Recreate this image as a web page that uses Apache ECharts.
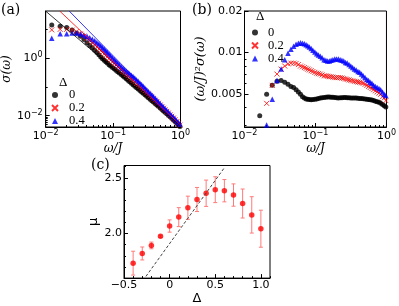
<!DOCTYPE html>
<html><head><meta charset="utf-8">
<script src="https://cdn.jsdelivr.net/npm/echarts@6/dist/echarts.min.js"></script>
<style>html,body{margin:0;padding:0;background:#fff}#c{width:399px;height:306px}</style>
</head><body><div id="c"></div>
<script>
// ---- data ----
const omega = [0.0123,0.0164,0.0205,0.0246,0.0287,0.0328,0.0369,0.041,0.0451,0.0492,0.0533,0.0574,0.0615,0.0656,0.0697,0.0738,0.0779,0.082,
 0.087,0.092,0.098,0.104,0.11,0.117,0.124,0.132,0.14,0.148,0.157,0.166,0.176,0.187,0.198,0.21,0.223,0.236,0.25,0.265,0.28,0.297,0.315,0.334,0.354,0.375,0.397,0.42,0.445,0.47,0.5,0.53,0.56,0.59,0.625,0.66,0.7,0.74,0.785,0.83,0.88,0.93,0.98];
// panel (a): sigma(omega)
const sigmaD0 = [14.5,13.0,11.9,9.6,7.5,5.9,4.5,3.5,2.8,2.31,1.90,1.58,1.32,1.12,0.97,0.85,0.76,0.68,
 0.60,0.54,0.48,0.43,0.385,0.343,0.307,0.272,0.243,0.218,0.194,0.173,0.153,0.135,0.120,0.107,0.0947,0.0847,0.0757,0.0674,0.0602,0.0534,0.0474,0.0421,0.0375,0.0334,0.0297,0.0265,0.0235,0.0211,0.0185,0.0164,0.0146,0.0131,0.0116,0.0103,0.0091,0.00807,0.00709,0.00624,0.00545,0.00478,0.00422];
const sigmaD02 = [9.8,10.2,10.2,9.6,8.5,7.1,5.9,4.9,4.1,3.47,2.94,2.49,2.12,1.84,1.61,1.41,1.25,1.115,
 0.978,0.862,0.750,0.656,0.583,0.511,0.449,0.390,0.347,0.308,0.272,0.243,0.215,0.189,0.168,0.150,0.133,0.118,0.104,0.0918,0.0816,0.0720,0.0635,0.0560,0.0495,0.0439,0.0389,0.0346,0.0306,0.0272,0.0236,0.0206,0.0182,0.0161,0.0141,0.0124,0.0108,0.0095,0.00828,0.00726,0.0062,0.00543,0.00469];
const sigmaD04 = [5.0,7.1,7.1,7.6,7.6,7.1,6.5,5.9,5.2,4.6,4.05,3.55,3.12,2.72,2.39,2.09,1.85,1.64,
 1.41,1.23,1.05,0.906,0.793,0.687,0.598,0.511,0.449,0.397,0.353,0.319,0.287,0.257,0.230,0.204,0.179,0.158,0.139,0.121,0.107,0.093,0.0806,0.0699,0.0606,0.0533,0.0463,0.0408,0.0353,0.0308,0.0264,0.0228,0.0201,0.0175,0.0154,0.0133,0.0116,0.0102,0.00893,0.00784,0.00671,0.00578,0.0051];
// power-law guide lines in (a)
const fitOmega0 = [0.01, 1], fitSigma0 = [44, 0.0045];
const fitOmega02 = [0.0162, 1], fitSigma02 = [44, 0.0047];
const fitOmega04 = [0.0224, 1], fitSigma04 = [44, 0.0050];
// panel (b): (omega/J)^2 sigma(omega)
const scaledD0 = [null,0.0035,0.0050,0.0058,0.0062,0.0063,0.0061,0.0059,0.0057,0.0056,0.0054,0.0052,0.0050,0.0048,0.0047,0.00463,0.0046,0.00458,
 0.00457,0.00458,0.0046,0.00463,0.00466,0.00469,0.00472,0.00474,0.00476,0.00477,0.00477,0.00476,0.00475,0.00473,0.00471,0.0047,0.00471,0.00472,0.00473,0.00473,0.00472,0.00471,0.0047,0.0047,0.0047,0.00469,0.00468,0.00467,0.00466,0.00465,0.00463,0.0046,0.00458,0.00456,0.00454,0.0045,0.00446,0.00442,0.00437,0.0043,0.00422,0.00413,0.00405];
const scaledD02 = [null,null,0.0043,0.0058,0.0070,0.0076,0.0080,0.0083,0.0084,0.0084,0.00835,0.0082,0.0080,0.0079,0.0078,0.0077,0.0076,0.0075,
 0.0074,0.0073,0.0072,0.0071,0.00705,0.007,0.0069,0.0068,0.0068,0.00675,0.0067,0.0067,0.00665,0.0066,0.0066,0.0066,0.0066,0.00655,0.0065,0.00645,0.0064,0.00635,0.0063,0.00625,0.0062,0.00617,0.00613,0.0061,0.00605,0.006,0.0059,0.0058,0.0057,0.0056,0.0055,0.0054,0.0053,0.0052,0.0051,0.0050,0.0048,0.0047,0.0045];
const scaledD04 = [null,null,0.0030,0.0046,0.0063,0.0076,0.0089,0.0099,0.0106,0.0111,0.0115,0.0117,0.0118,0.0117,0.0116,0.0114,0.0112,0.0110,
 0.0107,0.0104,0.0101,0.0098,0.0096,0.0094,0.0092,0.0089,0.0088,0.0087,0.0087,0.0088,0.0089,0.0090,0.0090,0.0090,0.0089,0.0088,0.0087,0.0085,0.0084,0.0082,0.0080,0.0078,0.0076,0.0075,0.0073,0.0072,0.0070,0.0068,0.0066,0.0064,0.0063,0.0061,0.0060,0.0058,0.0057,0.0056,0.0055,0.0054,0.0052,0.0050,0.0049];
// panel (c)
const deltas = [-0.4,-0.3,-0.2,-0.1,0,0.1,0.2,0.3,0.4,0.5,0.6,0.7,0.8,0.9,1.0];
const mu = [1.734,1.821,1.893,1.975,2.067,2.147,2.231,2.305,2.361,2.393,2.384,2.345,2.269,2.167,2.043];
const muErr = [0.107,0.058,0.03,0.01,0.055,0.085,0.104,0.108,0.118,0.116,0.10,0.10,0.13,0.163,0.166];
const guideDelta = [-0.26, 0.6], guideMu = [1.615, 2.59];
// ticks
const logMajorA_X = [0.01, 0.1, 1], logMinorX = [0.02,0.03,0.04,0.05,0.06,0.07,0.08,0.09,0.2,0.3,0.4,0.5,0.6,0.7,0.8,0.9];
const logMajorA_Y = [0.01, 1], logMinorA_Y = [0.005,0.006,0.007,0.008,0.009,0.1,10];
const majorB_Y = [0.005, 0.01, 0.02], minorB_Y = [0.003,0.004,0.006,0.007,0.008,0.009];
const majorC_X = [-0.5, 0, 0.5, 1.0], majorC_Y = [2.0, 2.5];
const legendNames = ['0', '0.2', '0.4'];

// ---- chart ----
const SANS = 'DejaVu Sans', SERIF = 'DejaVu Serif';
const pair = (xs, ys) => xs.map((x, i) => [x, ys[i]]).filter(p => p[1] != null);
const supRich = {
  b: {fontFamily: SANS, fontSize: 11, color: '#000'},
  s: {fontFamily: SANS, fontSize: 8, color: '#000', padding: [0, 0, 6, 0]}
};
function supFmt(v) { const e = Math.round(Math.log10(v)); return '{b|10}{s|' + (e < 0 ? '\u2212' + (-e) : e) + '}'; }
function axisPair(dim, o) {
  const common = {type: o.type, gridIndex: o.grid, min: o.min, max: o.max, splitLine: {show: false}};
  if (o.type === 'log') common.logBase = 10;
  const pos = dim === 'x' ? 'bottom' : 'left';
  const major = Object.assign({}, common, {
    position: pos,
    axisLine: {show: true, onZero: false, lineStyle: {color: '#000', width: 1}},
    axisTick: {show: true, inside: true, length: 4, customValues: o.major, lineStyle: {color: '#000', width: 1}},
    axisLabel: {show: true, customValues: o.major, formatter: o.fmt, margin: o.margin, color: '#000',
      fontFamily: SANS, fontSize: 11, rich: o.rich, hideOverlap: false},
    name: o.name, nameLocation: 'middle', nameGap: o.nameGap,
    nameTextStyle: Object.assign({color: '#000', fontFamily: SERIF, fontSize: 12}, o.nameStyle || {})
  });
  const minor = Object.assign({}, common, {
    position: pos,
    axisLine: {show: false, onZero: false},
    axisTick: {show: true, inside: true, length: 2, customValues: o.minor, lineStyle: {color: '#000', width: 1}},
    axisLabel: {show: false}
  });
  return [major, minor];
}
const xA = axisPair('x', {type: 'log', grid: 0, min: 0.01, max: 1, major: logMajorA_X, minor: logMinorX, fmt: supFmt, rich: supRich, margin: 2,
  name: 'ω/J', nameGap: 13, nameStyle: {fontStyle: 'italic'}});
const yA = axisPair('y', {type: 'log', grid: 0, min: 0.00403, max: 44.5, major: logMajorA_Y, minor: logMinorA_Y, fmt: supFmt, rich: supRich, margin: 3,
  name: 'σ(ω)', nameGap: 22, nameStyle: {fontStyle: 'italic'}});
const xB = axisPair('x', {type: 'log', grid: 1, min: 0.01, max: 1, major: logMajorA_X, minor: logMinorX, fmt: supFmt, rich: supRich, margin: 2,
  name: 'ω/J', nameGap: 13, nameStyle: {fontStyle: 'italic'}});
const yB = axisPair('y', {type: 'log', grid: 1, min: 0.0029, max: 0.02, major: majorB_Y, minor: minorB_Y, fmt: v => String(+v.toFixed(3)), margin: 2,
  name: '(ω/J)²σ(ω)', nameGap: 37, nameStyle: {fontStyle: 'italic', fontSize: 13}});
const xC = axisPair('x', {type: 'value', grid: 2, min: -0.5, max: 1.1, major: majorC_X, minor: [-0.4,-0.3,-0.2,-0.1,0.1,0.2,0.3,0.4,0.6,0.7,0.8,0.9,1.1],
  fmt: v => v === 0 ? '0' : (v < 0 ? '\u2212' + (-v).toFixed(1) : v.toFixed(1)), margin: 2,
  name: 'Δ', nameGap: 8, nameStyle: {fontSize: 13, fontFamily: SANS}});
const yC = axisPair('y', {type: 'value', grid: 2, min: 1.6, max: 2.61, major: majorC_Y, minor: [1.6,1.7,1.8,1.9,2.1,2.2,2.3,2.4,2.6],
  fmt: v => v.toFixed(1), margin: 2, name: 'μ', nameGap: 18, nameStyle: {fontSize: 13, fontFamily: SANS}});

const xSym = 'path://M0,0L10,10M10,0L0,10';
const mk = {
  '0': {symbol: 'circle', symbolSize: 5, itemStyle: {color: '#000'}},
  '0.2': {symbol: xSym, symbolSize: 5, itemStyle: {color: 'rgba(0,0,0,0)', borderColor: '#ff0000', borderWidth: 1}},
  '0.4': {symbol: 'triangle', symbolSize: 5.5, itemStyle: {color: '#0000ff'}}
};
function scatter(name, xi, data, z) {
  return Object.assign({type: 'scatter', name: name, xAxisIndex: xi, yAxisIndex: xi, data: data, z: z, clip: true, silent: true, animation: false}, mk[name]);
}
function fitLine(xi, xs, ys, color) {
  return {type: 'line', name: 'fit' + color, xAxisIndex: xi, yAxisIndex: xi, data: pair(xs, ys), symbol: 'none', clip: true,
    lineStyle: {color: color, width: 0.8}, z: 5, animation: false, silent: true};
}
function legendAt(left, top, padLeft) {
  return {data: legendNames, orient: 'vertical', left: left, top: top, itemWidth: 6, itemHeight: 6, itemGap: 0, padding: 0, selectedMode: false,
    textStyle: {fontFamily: 'Liberation Serif', fontSize: 12.5, lineHeight: 11, color: '#000', padding: [0, 0, 0, padLeft]}};
}
const titleStyle = {fontFamily: SERIF, fontSize: 14, fontWeight: 'normal', color: '#000'};

const option = {
  animation: false,
  backgroundColor: '#fff',
  textStyle: {fontFamily: SANS},
  grid: [
    {left: 36.5, top: 11, width: 144, height: 116, show: true, borderColor: '#000', borderWidth: 1, backgroundColor: 'transparent'},
    {left: 244.5, top: 11, width: 144.5, height: 116, show: true, borderColor: '#000', borderWidth: 1, backgroundColor: 'transparent'},
    {left: 124, top: 165.5, width: 146, height: 117, show: true, borderColor: '#000', borderWidth: 1, backgroundColor: 'transparent'}
  ],
  xAxis: [xA[0], xA[1], xB[0], xB[1], xC[0], xC[1]],
  yAxis: [yA[0], yA[1], yB[0], yB[1], yC[0], yC[1]],
  title: [
    {text: '(a)', left: 1, top: 3, padding: 0, textStyle: titleStyle},
    {text: '(b)', left: 192, top: 3, padding: 0, textStyle: titleStyle},
    {text: '(c)', left: 91, top: 158, padding: 0, textStyle: titleStyle},
    {text: 'Δ', left: 59, top: 76, padding: 0, textStyle: {fontFamily: 'Liberation Serif', fontSize: 13, fontWeight: 'normal', color: '#000'}},
    {text: 'Δ', left: 256, top: 10, padding: 0, textStyle: {fontFamily: 'Liberation Serif', fontSize: 13, fontWeight: 'normal', color: '#000'}}
  ],
  legend: [legendAt(51, 88.5, 6), legendAt(251, 26, 5)],
  series: [
    fitLine(0, fitOmega0, fitSigma0, '#000000'),
    fitLine(0, fitOmega02, fitSigma02, '#ff0000'),
    fitLine(0, fitOmega04, fitSigma04, '#0000ff'),
    scatter('0', 0, pair(omega, sigmaD0), 2),
    scatter('0.2', 0, pair(omega, sigmaD02), 3),
    scatter('0.4', 0, pair(omega, sigmaD04), 4),
    scatter('0', 2, pair(omega, scaledD0), 2),
    scatter('0.2', 2, pair(omega, scaledD02), 3),
    scatter('0.4', 2, pair(omega, scaledD04), 4),
    {type: 'custom', name: 'err', xAxisIndex: 4, yAxisIndex: 4, silent: true, z: 2,
      data: deltas.map((d, i) => [d, mu[i] - muErr[i], mu[i] + muErr[i]]),
      encode: {x: 0, y: [1, 2]},
      renderItem: function (params, api) {
        const x = api.value(0);
        const lo = api.coord([x, api.value(1)]), hi = api.coord([x, api.value(2)]);
        const w = 2, st = {stroke: '#ff7a7a', lineWidth: 1};
        return {type: 'group', children: [
          {type: 'line', shape: {x1: lo[0], y1: lo[1], x2: hi[0], y2: hi[1]}, style: st},
          {type: 'line', shape: {x1: lo[0] - w, y1: lo[1], x2: lo[0] + w, y2: lo[1]}, style: st},
          {type: 'line', shape: {x1: hi[0] - w, y1: hi[1], x2: hi[0] + w, y2: hi[1]}, style: st}
        ]};
      }},
    {type: 'scatter', name: 'mu', xAxisIndex: 4, yAxisIndex: 4, data: pair(deltas, mu), symbol: 'circle', symbolSize: 5.5,
      itemStyle: {color: '#ff0000'}, z: 3, silent: true},
    {type: 'line', name: 'guide', xAxisIndex: 4, yAxisIndex: 4, data: pair(guideDelta, guideMu), symbol: 'none',
      lineStyle: {color: '#444', width: 1, type: [3, 2]}, z: 4, silent: true}
  ]
};
const chart = echarts.init(document.getElementById('c'), null, {renderer: 'canvas'});
chart.setOption(option);
</script>
</body></html>
